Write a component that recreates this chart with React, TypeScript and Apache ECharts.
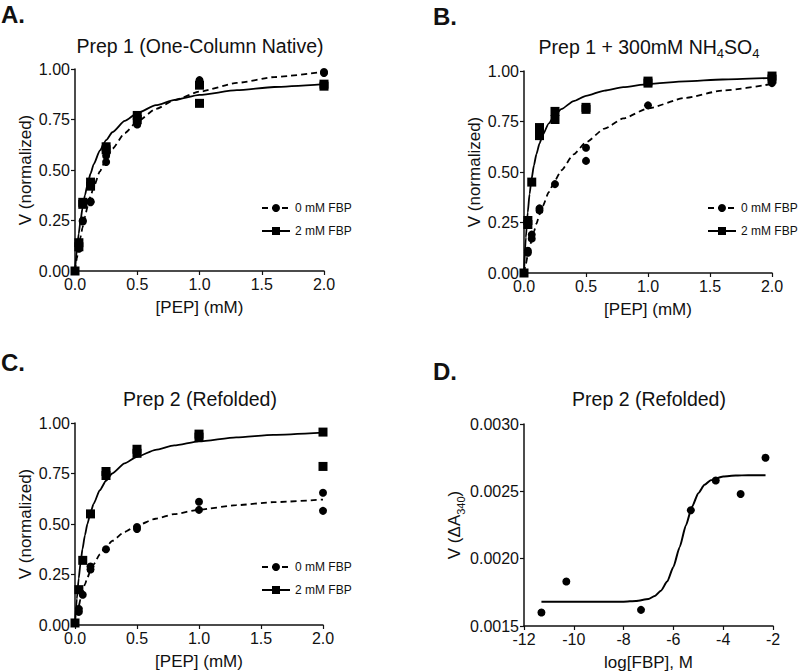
import React, { useEffect, useRef } from "react";
import * as echarts from "echarts";

const FONT = '"Liberation Sans", Arial, Helvetica, sans-serif';
const INK = "#111";

// ---------- Panels A–C: [PEP] (mM) vs normalized V ----------
const pepTicks = [0, 0.5, 1, 1.5, 2];
const vTicks = [0, 0.25, 0.5, 0.75, 1];

// fitted-curve samples
const curveX = [0, 0.015, 0.03, 0.045, 0.06, 0.08, 0.1, 0.125, 0.15, 0.2, 0.25, 0.3, 0.4, 0.5, 0.65, 0.8, 1, 1.3, 1.6, 2];
const fitA0 = [0, 0.063, 0.119, 0.169, 0.215, 0.269, 0.317, 0.37, 0.416, 0.493, 0.555, 0.605, 0.683, 0.74, 0.802, 0.846, 0.888, 0.931, 0.96, 0.987];
const fitA2 = [0, 0.102, 0.185, 0.253, 0.311, 0.375, 0.428, 0.483, 0.528, 0.597, 0.648, 0.687, 0.743, 0.782, 0.821, 0.847, 0.872, 0.895, 0.911, 0.925];
const fitB0 = [0, 0.045, 0.087, 0.125, 0.161, 0.205, 0.244, 0.289, 0.33, 0.4, 0.458, 0.508, 0.587, 0.647, 0.715, 0.765, 0.815, 0.867, 0.903, 0.936];
const fitB2 = [0, 0.176, 0.3, 0.391, 0.462, 0.533, 0.588, 0.641, 0.682, 0.741, 0.781, 0.811, 0.851, 0.877, 0.903, 0.92, 0.935, 0.949, 0.958, 0.966];
const fitC0 = [0, 0.05, 0.093, 0.13, 0.163, 0.201, 0.234, 0.27, 0.3, 0.349, 0.386, 0.416, 0.461, 0.493, 0.526, 0.549, 0.571, 0.593, 0.608, 0.621];
const fitC2 = [0, 0.13, 0.231, 0.31, 0.375, 0.444, 0.5, 0.556, 0.6, 0.667, 0.714, 0.75, 0.8, 0.833, 0.867, 0.889, 0.909, 0.929, 0.941, 0.952];

// measured points [PEP, V]
const ptsA0 = [[0, 0], [0.03125, 0.11], [0.03125, 0.12], [0.0625, 0.245], [0.0625, 0.25], [0.125, 0.34], [0.125, 0.345], [0.25, 0.54], [0.25, 0.57], [0.5, 0.725], [0.5, 0.74], [1, 0.93], [1, 0.945], [2, 0.98], [2, 0.985]];
const ptsA2 = [[0, 0], [0.03125, 0.12], [0.03125, 0.14], [0.0625, 0.33], [0.0625, 0.34], [0.125, 0.42], [0.125, 0.44], [0.25, 0.6], [0.25, 0.615], [0.5, 0.75], [0.5, 0.77], [1, 0.83], [1, 0.92], [2, 0.915], [2, 0.925]];
const ptsB0 = [[0, 0], [0.03125, 0.1], [0.03125, 0.11], [0.0625, 0.17], [0.0625, 0.19], [0.125, 0.31], [0.125, 0.32], [0.25, 0.44], [0.5, 0.555], [0.5, 0.62], [1, 0.83], [2, 0.94], [2, 0.95]];
const ptsB2 = [[0, 0], [0.03125, 0.24], [0.03125, 0.26], [0.0625, 0.45], [0.125, 0.68], [0.125, 0.72], [0.25, 0.76], [0.25, 0.8], [0.5, 0.81], [0.5, 0.82], [1, 0.94], [1, 0.95], [2, 0.96], [2, 0.975]];
const ptsC0 = [[0, 0.01], [0.03125, 0.065], [0.03125, 0.08], [0.0625, 0.15], [0.125, 0.275], [0.125, 0.29], [0.25, 0.375], [0.5, 0.475], [0.5, 0.485], [1, 0.57], [1, 0.61], [2, 0.565], [2, 0.655]];
const ptsC2 = [[0, 0.01], [0.03125, 0.175], [0.0625, 0.32], [0.125, 0.55], [0.25, 0.74], [0.25, 0.76], [0.5, 0.85], [0.5, 0.87], [1, 0.93], [1, 0.945], [2, 0.955], [2, 0.785]];

// ---------- Panel D: log[FBP] vs V ----------
const logFbpX = [-11.3, -10.3, -7.3, -5.3, -4.3, -3.3, -2.3];
const rateD = [0.0016, 0.00183, 0.00162, 0.00236, 0.00258, 0.00248, 0.00275];
const curveDX = [-11.3, -10, -9, -8, -7.5, -7, -6.75, -6.5, -6.25, -6, -5.75, -5.5, -5.25, -5, -4.75, -4.5, -4, -3.5, -3, -2.3];
const curveDY = [0.00168, 0.00168, 0.00168, 0.001681, 0.001686, 0.0017, 0.001723, 0.001762, 0.00183, 0.001939, 0.002085, 0.002246, 0.002386, 0.002486, 0.002548, 0.002582, 0.00261, 0.002617, 0.00262, 0.00262];

const LEG0 = "0 mM FBP";
const LEG2 = "2 mM FBP";

const grids = [
  { left: 75, top: 69, width: 249, height: 202 },
  { left: 524, top: 71, width: 248, height: 202 },
  { left: 75, top: 423, width: 248, height: 202 },
  { left: 524, top: 424, width: 249, height: 202 },
];

const axisCommon = {
  axisLine: { show: true, lineStyle: { color: INK, width: 1.5 } },
  axisTick: { show: true, length: 4, lineStyle: { color: INK, width: 1.2 } },
  splitLine: { show: false },
  nameLocation: "middle",
  nameTextStyle: { fontSize: 17, color: INK, fontFamily: FONT },
};

function xAxisFor(i: number, min: number, max: number, interval: number, digits: number, name: string) {
  return {
    ...axisCommon,
    type: "value",
    gridIndex: i,
    min,
    max,
    interval,
    name,
    nameGap: 28,
    axisLabel: { fontSize: 16, color: INK, fontFamily: FONT, margin: 5, formatter: (v: number) => v.toFixed(digits) },
  };
}

function yAxisFor(i: number, min: number, max: number, interval: number, digits: number, name: string, gap: number, rich?: any) {
  return {
    ...axisCommon,
    type: "value",
    gridIndex: i,
    min,
    max,
    interval,
    name,
    nameGap: gap,
    nameTextStyle: { ...axisCommon.nameTextStyle, rich },
    axisLabel: { fontSize: 16, color: INK, fontFamily: FONT, margin: 5, formatter: (v: number) => v.toFixed(digits) },
  };
}

function kinetic(i: number, fit0: number[], fit2: number[], pts0: number[][], pts2: number[][]) {
  return [
    {
      type: "line", name: LEG0, xAxisIndex: i, yAxisIndex: i,
      data: curveX.map((x, k) => [x, fit0[k]]),
      smooth: 0.2, smoothMonotone: "x", showSymbol: false, symbol: "circle", symbolSize: 8,
      lineStyle: { color: "#000", width: 1.8, type: [6, 4] }, itemStyle: { color: "#000" }, silent: true, z: 2,
    },
    {
      type: "line", name: LEG2, xAxisIndex: i, yAxisIndex: i,
      data: curveX.map((x, k) => [x, fit2[k]]),
      smooth: 0.2, smoothMonotone: "x", showSymbol: false, symbol: "rect", symbolSize: 8,
      lineStyle: { color: "#000", width: 1.8, type: "solid" }, itemStyle: { color: "#000" }, silent: true, z: 2,
    },
    {
      type: "scatter", name: LEG0, xAxisIndex: i, yAxisIndex: i, data: pts0,
      symbol: "circle", symbolSize: 8, itemStyle: { color: "#000", opacity: 1 }, clip: false, z: 3,
    },
    {
      type: "scatter", name: LEG2, xAxisIndex: i, yAxisIndex: i, data: pts2,
      symbol: "rect", symbolSize: 9, itemStyle: { color: "#000", opacity: 1 }, clip: false, z: 3,
    },
  ];
}

function legendAt(left: number, top: number) {
  return {
    data: [LEG0, LEG2], left, top, orient: "vertical", itemWidth: 28, itemHeight: 10, itemGap: 11,
    padding: 0, selectedMode: false,
    textStyle: { fontSize: 12, color: INK, fontFamily: FONT },
  };
}

function label(x: number, y: number, text: string, size: number, bold: boolean, align = "left", rich?: any) {
  return {
    type: "text", x, y, silent: true,
    style: {
      text, fill: INK, font: `${bold ? "bold " : ""}${size}px ${FONT}`,
      fontSize: size, fontFamily: FONT, fontWeight: bold ? "bold" : "normal",
      textAlign: align, textVerticalAlign: "middle", rich,
    },
  };
}

const subRich = {
  n: { fontSize: 19.5, fontFamily: FONT, color: INK, verticalAlign: "middle", lineHeight: 26 },
  s: { fontSize: 13, fontFamily: FONT, color: INK, verticalAlign: "bottom", lineHeight: 26 },
};

export default function App() {
  const ref = useRef<HTMLDivElement>(null);
  useEffect(() => {
    if (!ref.current) return;
    const chart = echarts.init(ref.current, null, { renderer: "svg" });
    const option: any = {
      animation: false,
      backgroundColor: "#fff",
      textStyle: { fontFamily: FONT },
      grid: grids.map((g) => ({ ...g, containLabel: false, outerBoundsMode: "none" })),
      xAxis: [
        xAxisFor(0, pepTicks[0], pepTicks[pepTicks.length - 1], 0.5, 1, "[PEP] (mM)"),
        xAxisFor(1, pepTicks[0], pepTicks[pepTicks.length - 1], 0.5, 1, "[PEP] (mM)"),
        xAxisFor(2, pepTicks[0], pepTicks[pepTicks.length - 1], 0.5, 1, "[PEP] (mM)"),
        xAxisFor(3, -12, -2, 2, 0, "log[FBP], M"),
      ],
      yAxis: [
        yAxisFor(0, vTicks[0], vTicks[vTicks.length - 1], 0.25, 2, "V (normalized)", 41),
        yAxisFor(1, vTicks[0], vTicks[vTicks.length - 1], 0.25, 2, "V (normalized)", 41),
        yAxisFor(2, vTicks[0], vTicks[vTicks.length - 1], 0.25, 2, "V (normalized)", 41),
        yAxisFor(3, 0.0015, 0.003, 0.0005, 4, "{n|V (ΔA}{s|340}{n|)}", 56, {
          n: { fontSize: 17, fontFamily: FONT, color: INK, verticalAlign: "middle", lineHeight: 24 },
          s: { fontSize: 11, fontFamily: FONT, color: INK, verticalAlign: "bottom", lineHeight: 24 },
        }),
      ],
      legend: [legendAt(261, 202), legendAt(707, 202), legendAt(261, 561)],
      series: [
        ...kinetic(0, fitA0, fitA2, ptsA0, ptsA2),
        ...kinetic(1, fitB0, fitB2, ptsB0, ptsB2),
        ...kinetic(2, fitC0, fitC2, ptsC0, ptsC2),
        {
          type: "line", xAxisIndex: 3, yAxisIndex: 3,
          data: curveDX.map((x, k) => [x, curveDY[k]]),
          smooth: 0.2, smoothMonotone: "x", showSymbol: false,
          lineStyle: { color: "#000", width: 2 }, silent: true,
        },
        {
          type: "scatter", xAxisIndex: 3, yAxisIndex: 3,
          data: logFbpX.map((x, k) => [x, rateD[k]]),
          symbol: "circle", symbolSize: 8, itemStyle: { color: "#000", opacity: 1 }, clip: false,
        },
      ],
      graphic: [
        label(1, 14, "A.", 24, true),
        label(433, 16, "B.", 24, true),
        label(1, 362, "C.", 24, true),
        label(433, 371, "D.", 24, true),
        label(200, 46, "Prep 1 (One-Column Native)", 19.5, false, "center"),
        label(649, 47, "{n|Prep 1 + 300mM NH}{s|4}{n|SO}{s|4}", 19.5, false, "center", subRich),
        label(200, 399, "Prep 2 (Refolded)", 19.5, false, "center"),
        label(649, 399, "Prep 2 (Refolded)", 19.5, false, "center"),
      ],
    };
    chart.setOption(option);
    return () => chart.dispose();
  }, []);
  return (
    <div
      ref={ref}
      style={{ position: "absolute", left: 0, top: 0, width: 800, height: 672, background: "#fff" }}
    />
  );
}
